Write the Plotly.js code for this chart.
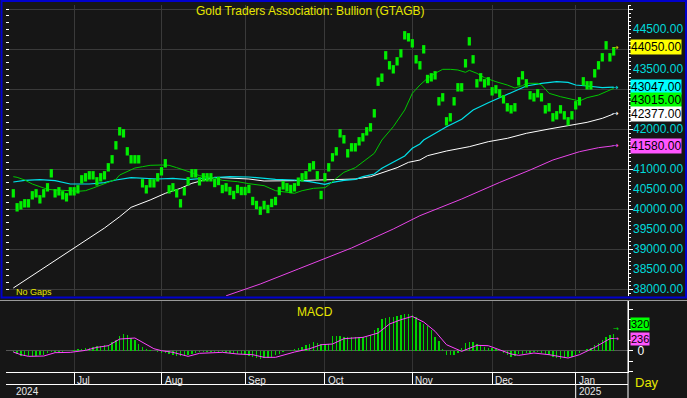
<!DOCTYPE html>
<html><head><meta charset="utf-8">
<script src="https://cdn.plot.ly/plotly-3.0.1.min.js"></script>
<style>html,body{margin:0;padding:0;background:#161616;}#chart{width:687px;height:398px;}</style>
</head><body><div id="chart"></div>
<script>
// ---------- DATA ----------
const startDate = '2024-06-07';
const monthNames = ['Jan','Feb','Mar','Apr','May','Jun','Jul','Aug','Sep','Oct','Nov','Dec'];
const chartTitle = 'Gold Traders Association: Bullion (GTAGB)';

// daily bullion price (one mark per trading day)
const closes = [
40392,40042,40092,40142,40142,40342,40392,40242,40392,40542,
40892,40392,40442,40342,40292,40442,40442,40492,40742,40792,
40842,40842,40692,40792,40842,41042,41242,41592,41942,41892,
41442,41242,41242,41242,40642,40492,40642,40642,40792,40942,
41142,40492,40542,40392,40142,40442,40692,40892,40892,40692,
40792,40792,40792,40650,40700,40500,40542,40450,40350,40500,
40450,40450,40500,40200,40100,39958,40100,40000,40150,40200,
40450,40592,40542,40500,40542,40683,40792,40842,41042,41092,
40842,40350,40792,41042,41292,41442,41892,41742,41392,41542,
41542,41692,41792,41942,42042,42392,43183,43283,43842,43592,
43492,43692,43892,44342,44292,44142,43742,43592,43992,43250,
43292,43342,42692,42792,42192,42292,42692,43042,43042,43642,
44192,43742,43142,43292,43142,43192,42942,42992,42892,42742,
42542,42492,42542,43192,43342,43142,42842,42792,42892,42792,
42492,42542,42292,42342,42492,42342,42192,42342,42592,42692,
43192,43092,43092,43392,43592,43792,44092,43792,43940];

// moving averages (trading-day index, value)
const maShortIdx = [0,1,3,5,7,9,11,13,15,17,19,21,23,25,27,28,30,32,34,36,39,41,43,45,47,49,51,53,55,59,62,66,69,72,74,76,79,82,83,85,87,90,92,95,97,100,103,105,107,109,111,113,115,117,119,120,122,124,127,130,132,134,135,138,139,141,144,147,149,151,154,156,158];
const maShortVal = [40808,40792,40725,40625,40558,40492,40475,40475,40458,40442,40458,40525,40600,40658,40742,40850,40933,41025,41058,41092,41100,41092,41033,40975,40908,40833,40808,40775,40717,40683,40633,40583,40458,40417,40392,40458,40517,40533,40600,40767,40917,41033,41183,41392,41725,42058,42475,42892,43100,43267,43392,43492,43492,43475,43417,43467,43392,43283,43183,43100,43025,43083,43142,43142,43100,42892,42808,42733,42700,42783,42850,42933,43015];

const maMidIdx = [0,3,7,11,15,20,24,27,31,35,38,42,46,51,53,55,57,62,66,69,74,78,82,84,87,90,92,95,97,100,103,105,107,108,111,114,118,121,125,128,132,135,139,143,146,148,151,155,158];
const maMidVal = [40675,40717,40733,40708,40625,40625,40658,40725,40783,40767,40750,40767,40733,40775,40792,40808,40808,40800,40767,40742,40725,40683,40617,40667,40717,40742,40808,40875,41017,41167,41325,41517,41625,41725,41892,42058,42242,42475,42658,42783,42950,43075,43142,43183,43167,43100,43075,43033,43047];

const maLongIdx = [0,16,24,28,31,36,40,44,47,51,53,62,66,74,83,90,94,97,101,104,107,109,114,120,125,130,135,141,146,151,155,158];
const maLongVal = [38025,39025,39525,39808,40042,40225,40392,40517,40642,40742,40792,40750,40700,40708,40725,40750,40808,40908,41033,41167,41225,41333,41450,41558,41683,41767,41892,42000,42083,42167,42267,42377];

const ma200Idx = [56,65,75,89,100,107,118,128,136,142,149,154,158];
const ma200Val = [37830,38125,38500,39025,39500,39833,40250,40665,40975,41225,41433,41533,41580];

// MACD histogram (one per trading day) and signal line
const macd = [
-30,-60,-100,-110,-110,-100,-95,-90,-80,-45,
-30,-25,-25,-20,-15,-5,10,25,40,50,
60,75,85,95,105,115,160,210,280,320,
295,250,200,130,80,40,20,-10,-25,-35,
-45,-70,-90,-100,-110,-100,-80,-55,-35,-30,
-30,-30,-28,-30,-30,-30,-35,-40,-45,-60,
-70,-80,-100,-130,-150,-155,-150,-140,-115,-90,
-60,-30,-5,20,35,55,80,100,120,165,
140,130,125,130,290,285,275,265,256,256,
256,256,256,270,305,400,430,600,630,640,
645,660,680,700,711,690,640,560,520,480,
400,270,180,30,-80,-90,-80,-40,60,140,
165,165,130,100,75,60,45,35,0,-45,
-90,-130,-95,-70,-60,-45,-35,-30,-28,-40,
-60,-90,-125,-140,-155,-150,-130,-120,-80,-45,
-10,30,60,110,150,200,270,300,320];
const sigIdx = [0,2,4,8,11,15,19,22,25,28,32,34,37,39,42,46,49,55,59,63,66,69,74,78,81,84,87,92,96,99,102,105,108,111,114,118,120,122,125,128,131,133,137,141,144,146,149,153,157,158];
const sigVal = [-26,-77,-109,-103,-38,-32,6,64,96,224,244,167,38,0,-32,-109,-51,-32,-64,-77,-128,-128,-26,38,115,128,231,256,340,513,596,660,551,372,115,-13,51,103,96,19,-64,-90,-45,-77,-109,-141,-77,64,231,236];

const priceTickVals = [44500,43500,42000,41000,40500,40000,39500,39000,38500,38000];
const macdTickVals = [-400,-200,0,200,400,600,800];
const macdTickText = ['','','0','','','',''];
const priceLabels = [44050, 43047, 43015, 42377, 41580];
const macdLabels = [320, 236];

// ---------- DERIVED ----------
function businessDays(start, n){
  const out=[]; const d=new Date(start+'T00:00:00Z');
  while(out.length<n){const wd=d.getUTCDay(); if(wd!==0&&wd!==6) out.push(d.toISOString().slice(0,10)); d.setUTCDate(d.getUTCDate()+1);}
  return out;
}
const dates = businessDays(startDate, closes.length);
const idx = dates.map((_, i) => i);
const monthIdx = [], monthText = [], yearIdx = [0], yearText = [dates[0].slice(0,4)];
dates.forEach((d,i)=>{ if(i>0 && d.slice(5,7)!==dates[i-1].slice(5,7)){ monthIdx.push(i); monthText.push(monthNames[+d.slice(5,7)-1]); if(d.slice(0,4)!==dates[i-1].slice(0,4)){yearIdx.push(i); yearText.push(d.slice(0,4));} } });

// ---------- LAYOUT HELPERS (pixel -> paper) ----------
const W=687,H=398,ML=6,MR=59,MT=5,MB=26;
const PW=W-ML-MR, PH=H-MT-MB;
const px = x => (x-ML)/PW;
const py = y => (H-MB-y)/PH;
const FONT = 'Liberation Sans, Arial, sans-serif';
const BG = '#161616', GRID = '#3a3a3a';
const xr = [(ML-13.3)/3.8, (W-MR-13.3)/3.8];
const pRange = [37825, 45100];

const traces = [
  {x: maLongIdx, y: maLongVal, mode:'lines', line:{color:'#ffffff', width:1}, xaxis:'x', yaxis:'y', hoverinfo:'skip'},
  {x: ma200Idx, y: ma200Val, mode:'lines', line:{color:'#e845e8', width:1}, xaxis:'x', yaxis:'y', hoverinfo:'skip'},
  {x: maMidIdx, y: maMidVal, mode:'lines', line:{color:'#00e0e8', width:1.2}, xaxis:'x', yaxis:'y', hoverinfo:'skip'},
  {x: maShortIdx, y: maShortVal, mode:'lines', line:{color:'#00c800', width:1}, xaxis:'x', yaxis:'y', hoverinfo:'skip'},
  {x: idx, y: closes, mode:'markers', marker:{symbol:'line-ns', size:6, line:{width:3.2, color:'#00ee00'}}, xaxis:'x', yaxis:'y', hoverinfo:'skip'},
  {x: [null], y: [null], xaxis:'x', yaxis:'y3', hoverinfo:'skip', mode:'markers'},
  {x: [null], y: [null], xaxis:'x', yaxis:'y4', hoverinfo:'skip', mode:'markers'},
  {type:'bar', x: idx, y: macd, width:0.38, marker:{color:'#00d400', line:{width:0}}, xaxis:'x2', yaxis:'y2', hoverinfo:'skip'},
  {x: sigIdx, y: sigVal, mode:'lines', line:{color:'#ff44ff', width:1}, xaxis:'x2', yaxis:'y2', hoverinfo:'skip'}
];

const mainDom = [py(296), 1];
const macdDom = [0, py(300)];

const annotations = [
  {xref:'paper', yref:'paper', x:px(310), y:py(11), yanchor:'middle', text:chartTitle, showarrow:false, font:{family:FONT, size:12, color:'#e6e600'}},
  {xref:'paper', yref:'paper', x:px(14), y:py(292), xanchor:'left', yanchor:'middle', text:'No Gaps', showarrow:false, font:{family:FONT, size:9, color:'#e6e600'}},
  {xref:'paper', yref:'paper', x:px(315), y:py(312), yanchor:'middle', text:'MACD', showarrow:false, font:{family:FONT, size:12, color:'#e6e600'}},
  {xref:'paper', yref:'paper', x:px(661), y:py(383), yanchor:'middle', text:'Day', showarrow:false, font:{family:FONT, size:13, color:'#e6e600'}}
];
const boxStyles = [
  {bg:'#ffff00', arrow:'#d8d800', shift:0},
  {bg:'#00ffff', arrow:'#00e0e0', shift:0},
  {bg:'#00ff00', arrow:'#00e000', shift:-12},
  {bg:'#ffffff', arrow:'#ffffff', shift:0},
  {bg:'#ff55ff', arrow:'#ff55ff', shift:0}
];
priceLabels.forEach((v,i)=>{
  const s = boxStyles[i];
  annotations.push({xref:'paper', yref:'y', x:1, xshift:2, xanchor:'left', yanchor:'middle', y:v, yshift:s.shift, text:v.toFixed(2), showarrow:false, bgcolor:s.bg, borderpad:0, font:{family:FONT, size:12, color:'#000000'}});
  if(i!==2) annotations.push({xref:'paper', yref:'y', x:px(621), y:v, yanchor:'middle', text:'→', showarrow:false, font:{family:'DejaVu Sans', size:8, color:s.arrow}});
});
const macdStyles = [{bg:'#00ff00', shift:10, arrow:'#00e000'}, {bg:'#ff55ff', shift:-1, arrow:'#ff55ff'}];
macdLabels.forEach((v,i)=>{
  const s = macdStyles[i];
  annotations.push({xref:'paper', yref:'y2', x:1, xshift:2, xanchor:'left', yanchor:'middle', y:v, yshift:s.shift, text:String(v), showarrow:false, bgcolor:s.bg, borderpad:0, font:{family:FONT, size:11, color:'#000000'}});
  annotations.push({xref:'paper', yref:'y2', x:px(621), y:v, yanchor:'middle', yshift:s.shift/2, text:'→', showarrow:false, font:{family:'DejaVu Sans', size:7, color:s.arrow}});
});
monthIdx.forEach((m,i)=>{
  annotations.push({xref:'x2', yref:'paper', x:m, xanchor:'left', xshift:1, y:py(373), yanchor:'top', text:monthText[i], showarrow:false, font:{family:FONT, size:10, color:'#e8e8e8'}});
});
yearIdx.forEach((m,i)=>{
  annotations.push({xref:'x2', yref:'paper', x:m, xanchor:'left', xshift:1, y:py(384), yanchor:'top', text:yearText[i], showarrow:false, font:{family:FONT, size:10, color:'#e8e8e8'}});
});

const shapes = [
  {type:'line', xref:'paper', yref:'paper', x0:0, x1:1, y0:py(384.5), y1:py(384.5), line:{color:'#ffffff', width:1}},
  {type:'line', xref:'paper', yref:'paper', x0:1, x1:1, y0:py(300), y1:py(398), line:{color:'#ffffff', width:1}},
  {type:'line', xref:'paper', yref:'paper', x0:px(0), x1:px(687), y0:py(300.5), y1:py(300.5), line:{color:'#9a9a9a', width:1}},
  {type:'rect', xref:'paper', yref:'paper', x0:px(1.5), x1:px(686), y0:py(297.5), y1:py(1), line:{color:'#0000cc', width:2}},
  {type:'line', xref:'x2', yref:'paper', x0:yearIdx[1], x1:yearIdx[1], y0:py(384), y1:py(398), line:{color:'#ffffff', width:1}}
];

const layout = {
  width:W, height:H, margin:{l:ML, r:MR, t:MT, b:MB, pad:0},
  paper_bgcolor:BG, plot_bgcolor:BG, showlegend:false, bargap:0,
  font:{family:FONT, color:'#ffffff'},
  xaxis:{domain:[0,1], range:xr, anchor:'y', tickmode:'array', tickvals:monthIdx, showticklabels:false, ticks:'', showgrid:true, gridcolor:GRID, gridwidth:1, zeroline:false, showline:false, fixedrange:true},
  xaxis2:{domain:[0,1], range:xr, anchor:'y2', matches:'x', tickmode:'array', tickvals:monthIdx, showticklabels:false, ticks:'outside', ticklen:12, tickcolor:'#ffffff', tickwidth:1, showgrid:true, gridcolor:'#333333', zeroline:false, showline:true, linecolor:'#ffffff', linewidth:1, fixedrange:true},
  yaxis:{domain:mainDom, range:pRange, anchor:'x', side:'right', tickmode:'linear', tick0:38000, dtick:1000, showticklabels:false, ticks:'outside', ticklen:4, tickcolor:'#ffffff', showgrid:true, gridcolor:GRID, gridwidth:1, zeroline:false, showline:true, linecolor:'#ffffff', linewidth:1,
         minor:{dtick:100, tick0:38000, ticks:'outside', ticklen:2, tickcolor:'#ffffff', showgrid:false}, fixedrange:true},
  yaxis3:{overlaying:'y', range:pRange, anchor:'x', side:'right', tickmode:'array', tickvals:priceTickVals, ticktext:priceTickVals.map(v=>v.toFixed(2)), ticks:'', showgrid:false, zeroline:false, showline:false, ticklabelstandoff:4, tickfont:{family:FONT, size:12, color:'#00dada'}, fixedrange:true},
  yaxis4:{overlaying:'y', range:pRange, anchor:'x', side:'left', tickmode:'linear', tick0:38000, dtick:1000/6, ticks:'inside', ticklen:3, tickcolor:'#ffffff', showticklabels:false, showgrid:false, zeroline:false, showline:false, fixedrange:true},
  yaxis2:{domain:macdDom, range:[-410, 975], anchor:'x2', side:'right', tickmode:'array', tickvals:macdTickVals, ticktext:macdTickText, ticks:'outside', ticklen:4, tickcolor:'#ffffff', tickfont:{family:FONT, size:12, color:'#ffffff'}, ticklabelstandoff:2, showgrid:false, zeroline:true, zerolinecolor:'#555555', zerolinewidth:1, showline:true, linecolor:'#ffffff', linewidth:1, fixedrange:true},
  annotations, shapes
};
Plotly.newPlot('chart', traces, layout, {staticPlot:true, displayModeBar:false});
</script></body></html>
